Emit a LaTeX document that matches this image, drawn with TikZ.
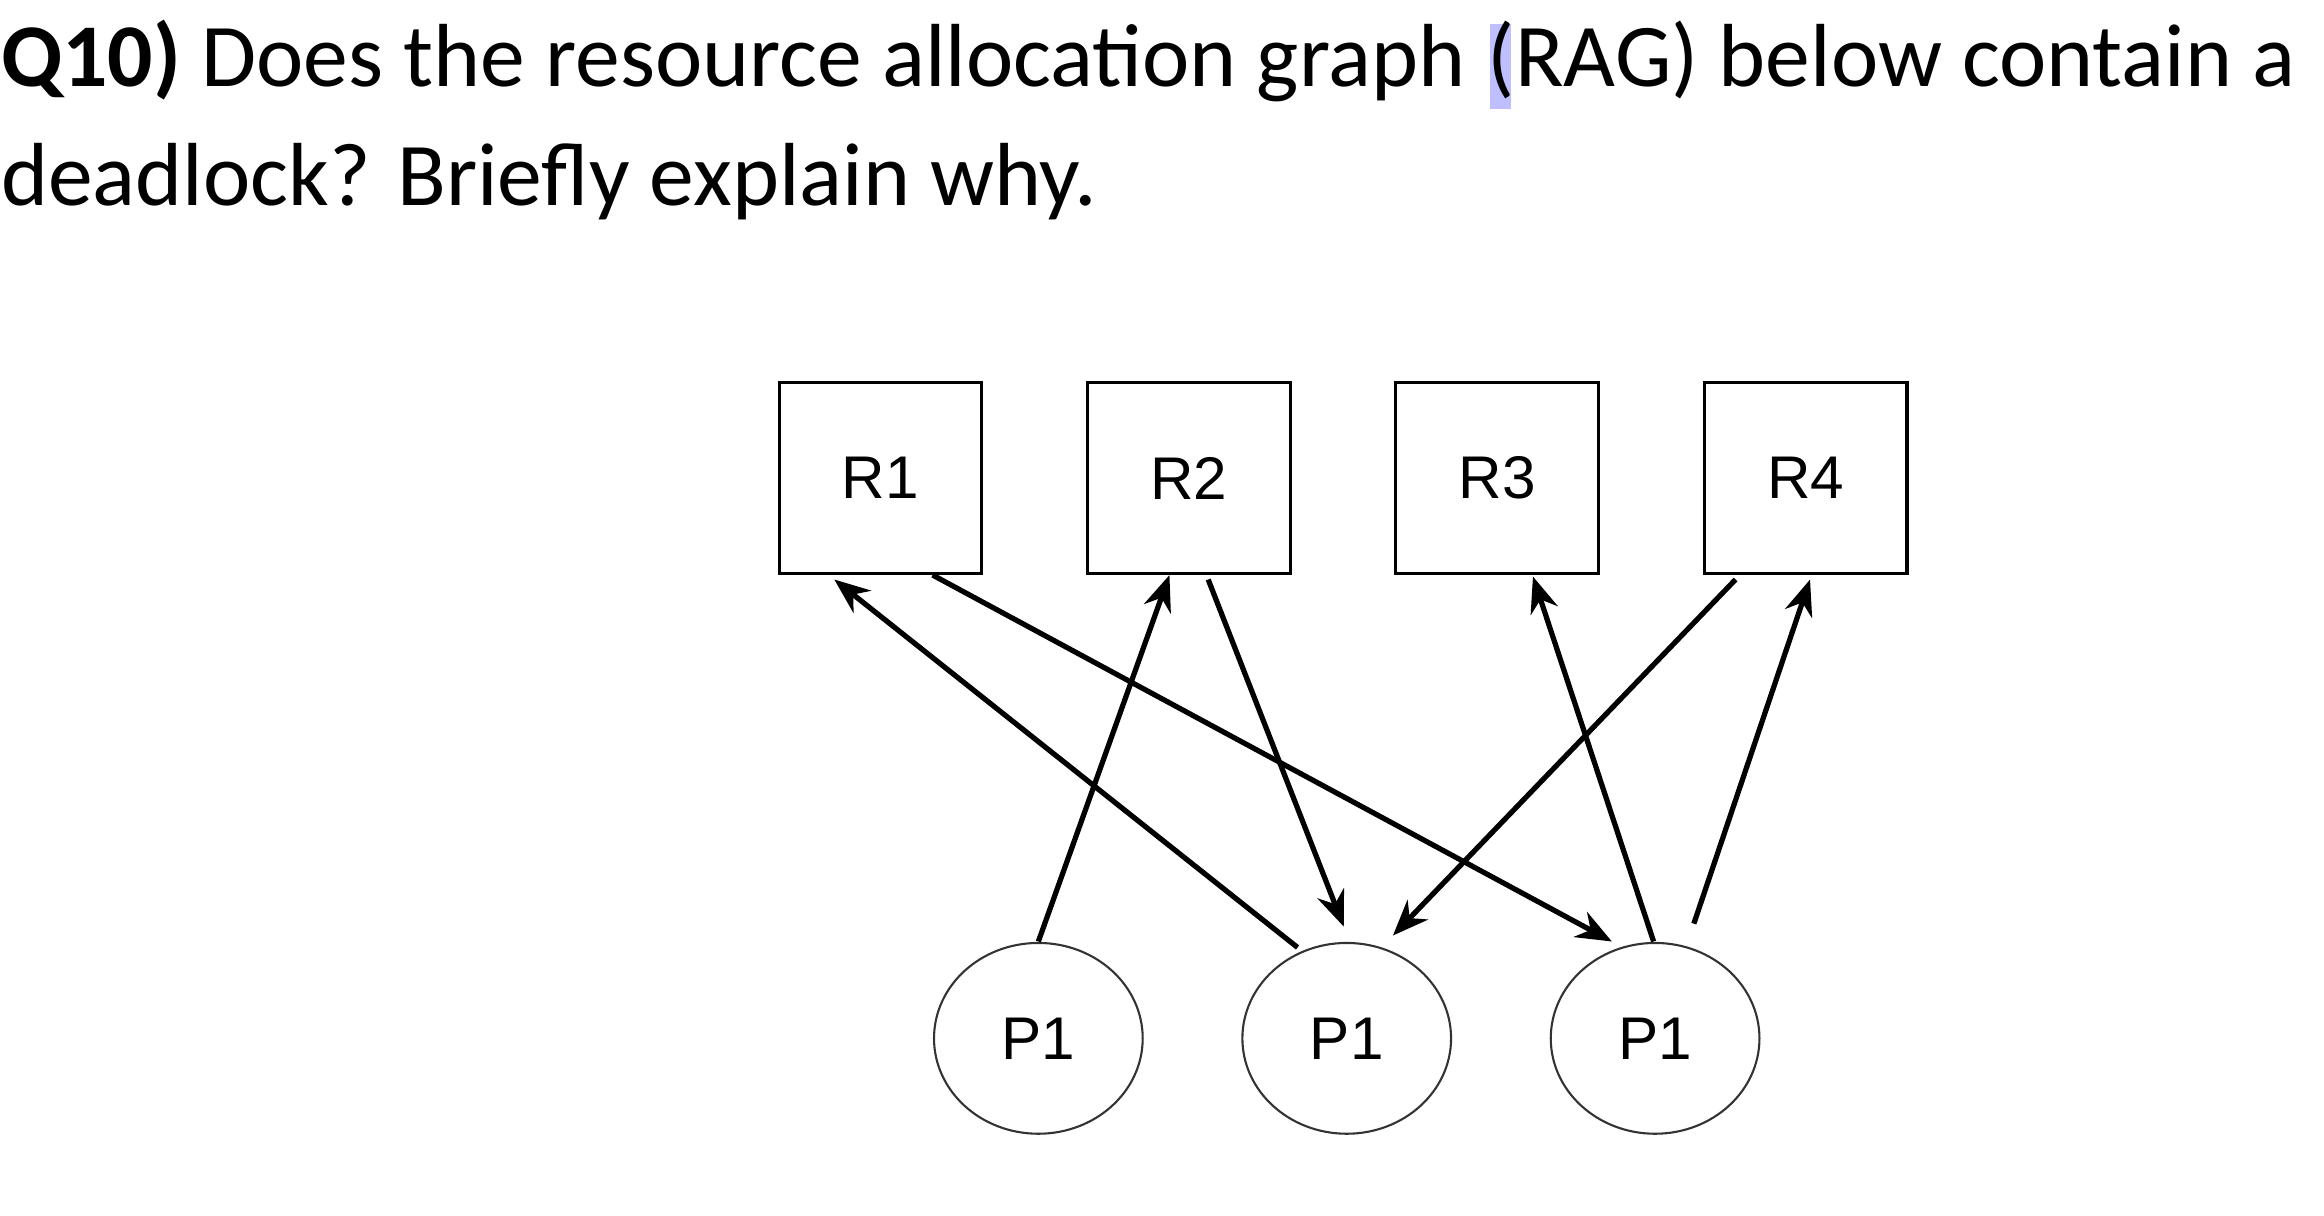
\documentclass[tikz,border=0pt]{standalone}
\usepackage{fontspec}
\setmainfont{Carlito}
\newfontfamily\arialf{Liberation Sans}
\usetikzlibrary{shapes.geometric,arrows.meta}
\begin{document}
\begin{tikzpicture}[x=0.01cm,y=-0.01cm,
  res/.style={draw,line width=0.6pt,minimum width=1.36cm,minimum height=1.28cm,inner sep=0pt,font=\arialf\fontsize{11.5}{12}\selectfont},
  proc/.style={draw,ellipse,line width=0.4pt,draw=black!80,minimum width=1.40cm,minimum height=1.28cm,inner sep=0pt,font=\arialf\fontsize{11.5}{12}\selectfont},
  edge/.style={line width=1pt,-{Stealth[length=0.24cm,width=0.19cm]}}]
\useasboundingbox (0,0) rectangle (1560,816);
\fill[blue!25] (1000,16) rectangle (1014,73);
\node[anchor=base west,inner sep=0pt,font=\fontsize{17.1}{20}\selectfont] (t1) at (0,58) {\textbf{Q10)} Does the resource allocation graph\hspace{0.25em}(RAG) below contain a};
\node[anchor=base west,inner sep=0pt,font=\fontsize{17.1}{20}\selectfont] (t2) at (0,138) {deadlock? Briefly explain why.};
\node[res] (r1) at (591,321) {R1};
\node[res] (r2) at (798,321) {R2};
\node[res] (r3) at (1005,321) {R3};
\node[res] (r4) at (1212,321) {R4};
\node[proc] (pa) at (697,697) {P1};
\node[proc] (pb) at (904,697) {P1};
\node[proc] (pc) at (1111,697) {P1};
\coordinate (a1) at (697,632); \coordinate (a2) at (785,386);
\coordinate (b1) at (871,636); \coordinate (b2) at (560,389);
\coordinate (c1) at (626,386); \coordinate (c2) at (1082,632);
\coordinate (d1) at (811,389); \coordinate (d2) at (902,622);
\coordinate (e1) at (1165,389); \coordinate (e2) at (935,628);
\coordinate (f1) at (1110,632); \coordinate (f2) at (1029,387);
\coordinate (g1) at (1137,620); \coordinate (g2) at (1215,389);
\draw[edge] (a1) -- (a2);
\draw[edge] (b1) -- (b2);
\draw[edge] (c1) -- (c2);
\draw[edge] (d1) -- (d2);
\draw[edge] (e1) -- (e2);
\draw[edge] (f1) -- (f2);
\draw[edge] (g1) -- (g2);
\end{tikzpicture}
\end{document}
